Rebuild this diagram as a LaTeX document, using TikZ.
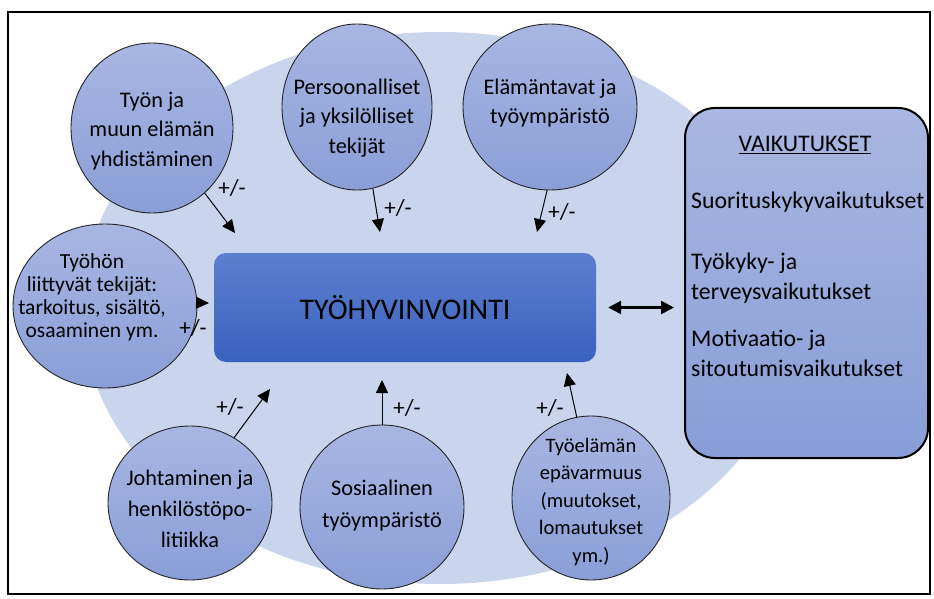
\documentclass[tikz,border=0pt]{standalone}
\usepackage{fontspec}
\setmainfont{Carlito}
\usetikzlibrary{arrows.meta,shapes.geometric}
\definecolor{haze}{HTML}{C9D4ED}
\definecolor{circtop}{HTML}{A8B6E2}
\definecolor{circbot}{HTML}{8A9ED7}
\definecolor{coretop}{HTML}{5C80CE}
\definecolor{corebot}{HTML}{3A61BE}
\definecolor{effecttop}{HTML}{A9B7E1}
\definecolor{effectbot}{HTML}{889DD7}
\begin{document}
\begin{tikzpicture}[x=1pt,y=-1pt,
  bubble/.style={ellipse, draw=black!85, line width=0.9pt, top color=circtop, bottom color=circbot, inner sep=0pt},
  btext/.style={align=center, inner sep=0pt, font=\fontsize{22.3}{29.5}\selectfont},
  pm/.style={inner sep=0pt, font=\fontsize{23}{24}\selectfont},
  arr/.style={-{Triangle[length=13pt,width=12pt]}, line width=1pt},
  dbl/.style={{Triangle[length=13pt,width=13pt]}-{Triangle[length=13pt,width=13pt]}, line width=2.5pt},
  etext/.style={anchor=west, align=left, inner sep=0pt, font=\fontsize{23.8}{30}\selectfont}]
\useasboundingbox (0,0) rectangle (934,599);
\fill[white] (0,0) rectangle (934,599);

% background haze
\node[ellipse, fill=haze, minimum width=716, minimum height=552, inner sep=0pt] (bg) at (440,308) {};

% central box
\node[rounded corners=12pt, top color=coretop, bottom color=corebot, minimum width=382, minimum height=109, inner sep=0pt] (w) at (405,307.5) {};
\node[inner sep=0pt, font=\fontsize{30}{34}\selectfont] (wt) at (405,308) {TYÖHYVINVOINTI};

% outcome box
\node[rounded corners=30pt, draw=black, line width=2pt, top color=effecttop, bottom color=effectbot, minimum width=243, minimum height=350, inner sep=0pt] (v) at (806.5,283) {};
\node[inner sep=0pt, font=\fontsize{23.8}{30}\selectfont] (vt) at (805,145) {\underline{VAIKUTUKSET}};
\node[etext] (v1) at (691,202) {Suorituskykyvaikutukset};
\node[etext] (v2) at (691,278) {Työkyky- ja\\terveysvaikutukset};
\node[etext] (v3) at (691,353) {Motivaatio- ja\\sitoutumisvaikutukset};

% factor bubbles
\node[bubble, minimum width=162, minimum height=170] (a) at (152,128) {};
\node[bubble, minimum width=150, minimum height=166] (b) at (357,107) {};
\node[bubble, minimum width=174, minimum height=166] (c) at (550,107) {};
\node[bubble, minimum width=184, minimum height=164] (d) at (105,306) {};
\node[bubble, minimum width=164, minimum height=154] (e) at (190,503) {};
\node[bubble, minimum width=164, minimum height=164] (f) at (382,507) {};
\node[bubble, minimum width=158, minimum height=164] (g) at (591,498) {};

\node[btext] (at) at (152,131) {Työn ja\\muun elämän\\yhdistäminen};
\node[btext] (bt) at (357,118) {Persoonalliset\\ja yksilölliset\\tekijät};
\node[btext] (ct) at (550,103) {Elämäntavat ja\\työympäristö};
\node[btext, font=\fontsize{21.5}{23}\selectfont] (dt) at (92,297) {Työhön\\liittyvät tekijät:\\tarkoitus, sisältö,\\osaaminen ym.};
\node[btext, font=\fontsize{22.3}{31}\selectfont] (et) at (190,509) {Johtaminen ja\\henkilöstöpo-\\litiikka};
\node[btext, font=\fontsize{22.3}{32}\selectfont] (ft) at (382,506) {Sosiaalinen\\työympäristö};
\node[btext, font=\fontsize{20.5}{27.5}\selectfont] (gt) at (591,502) {Työelämän\\epävarmuus\\(muutokset,\\lomautukset\\ym.)};

% arrow tips
\coordinate (ta) at (235,233);
\coordinate (tb) at (380,232);
\coordinate (tc) at (537,232);
\coordinate (td) at (209,303);
\coordinate (te) at (270,389);
\coordinate (tf) at (382,380);
\coordinate (tg) at (567,373);

\draw[arr] (a.-51) -- (ta);
\draw[arr] (b.-79) -- (tb);
\draw[arr] (c.-92) -- (tc);
\draw[arr] (d.2) -- (td);
\draw[arr] (e.56) -- (te);
\draw[arr] (f.90) -- (tf);
\draw[arr] (g.100) -- (tg);

\node[pm] (pa) at (232,188) {+/-};
\node[pm] (pb) at (398,208) {+/-};
\node[pm] (pc) at (562,212) {+/-};
\node[pm] (pd) at (193,328) {+/-};
\node[pm] (pe) at (230,407) {+/-};
\node[pm] (pf) at (407,408) {+/-};
\node[pm] (pg) at (550,408) {+/-};

% two-way link
\draw[dbl] ([xshift=12pt]w.east) -- ([xshift=-10pt]v.west |- w.east);

% frame
\draw[line width=2.5pt] (8,12) rectangle (930,594);
\end{tikzpicture}
\end{document}
